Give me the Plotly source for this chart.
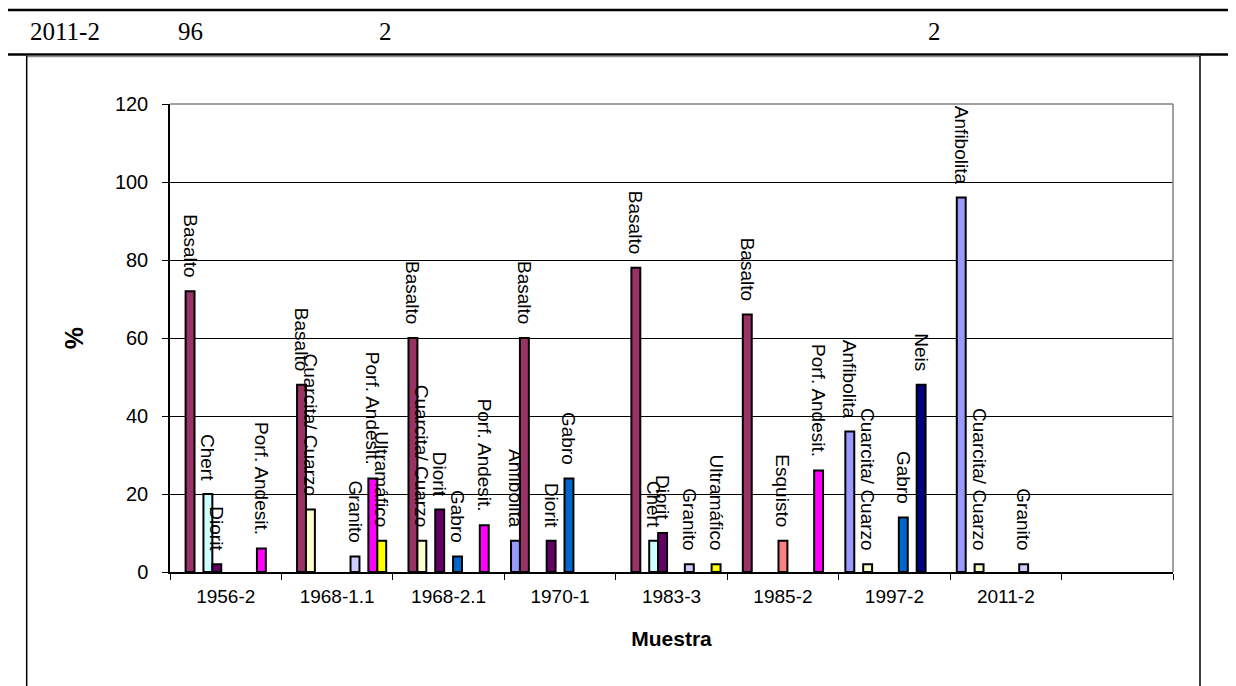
import plotly.graph_objects as go

# ---------------- data ----------------
categories = ["1956-2", "1968-1.1", "1968-2.1", "1970-1", "1983-3", "1985-2", "1997-2", "2011-2", " "]

series_names = ["Anfibolita", "Basalto", "Cuarcita/ Cuarzo", "Chert", "Diorit", "Esquisto",
                "Gabro", "Granito", "Neis", "Porf. Andesit.", "Ultramáfico"]

anfibolita  = [None, None, None, 8,    None, None, 36,   96,   None]
basalto     = [72,   48,   60,   60,   78,   66,   None, None, None]
cuarcita    = [None, 16,   8,    None, None, None, 2,    2,    None]
chert       = [20,   None, None, None, 8,    None, None, None, None]
diorit      = [2,    None, 16,   8,    10,   None, None, None, None]
esquisto    = [None, None, None, None, None, 8,    None, None, None]
gabro       = [None, None, 4,    24,   None, None, 14,   None, None]
granito     = [None, 4,    None, None, 2,    None, None, 2,    None]
neis        = [None, None, None, None, None, None, 48,   None, None]
porf        = [6,    24,   12,   None, None, 26,   None, None, None]
ultramafico = [None, 8,    None, None, 2,    None, None, None, None]

series_values = [anfibolita, basalto, cuarcita, chert, diorit, esquisto,
                 gabro, granito, neis, porf, ultramafico]

series_colors = ["#9999FF", "#993366", "#FFFFCC", "#CCFFFF", "#660066", "#FF8080",
                 "#0066CC", "#CCCCFF", "#000080", "#FF00FF", "#FFFF00"]

table_row = ["2011-2", "96", "2", "2"]
y_ticks = [0, 20, 40, 60, 80, 100, 120]

# ---------------- geometry helpers (page pixels -> paper) ----------------
OFF = 8                      # default page body margin
W, H = 1236 - OFF, 686 - OFF
PX0, PX1, PY0, PY1 = 170, 1173, 104, 572   # plot area in page pixels


def px(x):
    return (x - PX0) / (PX1 - PX0)


def py(y):
    return (PY1 - y) / (PY1 - PY0)


LABEL_GAP = "\u00a0\u00a0"   # spacing between bar top and its rotated label

fig = go.Figure()
for name, vals, col in zip(series_names, series_values, series_colors):
    fig.add_trace(go.Bar(
        x=categories, y=vals, name=name,
        marker=dict(color=col, line=dict(color="black", width=2)),
        text=[name + LABEL_GAP if v is not None else "" for v in vals],
        textposition="outside", textangle=90,
        textfont=dict(family="Liberation Sans, Arial", size=19, color="black"),
        constraintext="none", cliponaxis=False, showlegend=False,
    ))

shapes = [
    # plot area grey border (top and right)
    dict(type="line", xref="paper", yref="paper", x0=0, x1=1, y0=1, y1=1,
         line=dict(color="#808080", width=1.5), layer="above"),
    dict(type="line", xref="paper", yref="paper", x0=1, x1=1, y0=0, y1=1,
         line=dict(color="#808080", width=1.5), layer="above"),
    # table lines
    dict(type="line", xref="paper", yref="paper", x0=px(8), x1=px(1240), y0=py(10), y1=py(10),
         line=dict(color="black", width=2.5)),
    dict(type="line", xref="paper", yref="paper", x0=px(8), x1=px(1240), y0=py(54.5), y1=py(54.5),
         line=dict(color="black", width=2.5)),
    # chart frame
    dict(type="line", xref="paper", yref="paper", x0=px(27), x1=px(1200), y0=py(56.5), y1=py(56.5),
         line=dict(color="#909090", width=1.5)),
    dict(type="line", xref="paper", yref="paper", x0=px(26.7), x1=px(26.7), y0=py(55.5), y1=py(690),
         line=dict(color="black", width=1.5)),
    dict(type="line", xref="paper", yref="paper", x0=px(1200), x1=px(1200), y0=py(55.5), y1=py(690),
         line=dict(color="black", width=1.5)),
]

table_x = [28, 176, 377, 926]
annotations = [
    dict(xref="paper", yref="paper", x=px(xx), y=py(31), text=t, showarrow=False,
         xanchor="left", yanchor="middle",
         font=dict(family="Liberation Serif, Times New Roman", size=25, color="black"))
    for xx, t in zip(table_x, table_row)
]

fig.update_layout(
    width=W, height=H,
    margin=dict(l=PX0 - OFF, r=1236 - PX1, t=PY0 - OFF, b=686 - PY1, pad=0),
    paper_bgcolor="white", plot_bgcolor="white",
    barmode="group", bargap=0.12, bargroupgap=0,
    showlegend=False,
    shapes=shapes, annotations=annotations,
    font=dict(family="Liberation Sans, Arial", color="black"),
)

fig.update_xaxes(
    type="category", categoryorder="array", categoryarray=categories,
    range=[-0.5, len(categories) - 0.5],
    tickson="boundaries", ticks="outside", ticklen=6, tickcolor="black", tickwidth=1,
    showline=True, linecolor="black", linewidth=1.5, showgrid=False, zeroline=False,
    tickfont=dict(size=19, color="black"), ticklabelstandoff=6,
    title=dict(text="<b>Muestra</b>", font=dict(size=21, color="black"), standoff=26),
)

fig.update_yaxes(
    range=[0, 120], tickvals=y_ticks,
    ticks="outside", ticklen=6, tickcolor="black", tickwidth=1,
    showline=True, linecolor="black", linewidth=1.5,
    showgrid=True, gridcolor="black", gridwidth=1, zeroline=False,
    tickfont=dict(size=20, color="black"), ticklabelstandoff=10,
    title=dict(text="<b>%</b>", font=dict(size=25, color="black"), standoff=24),
)

fig.write_html("out.html")
